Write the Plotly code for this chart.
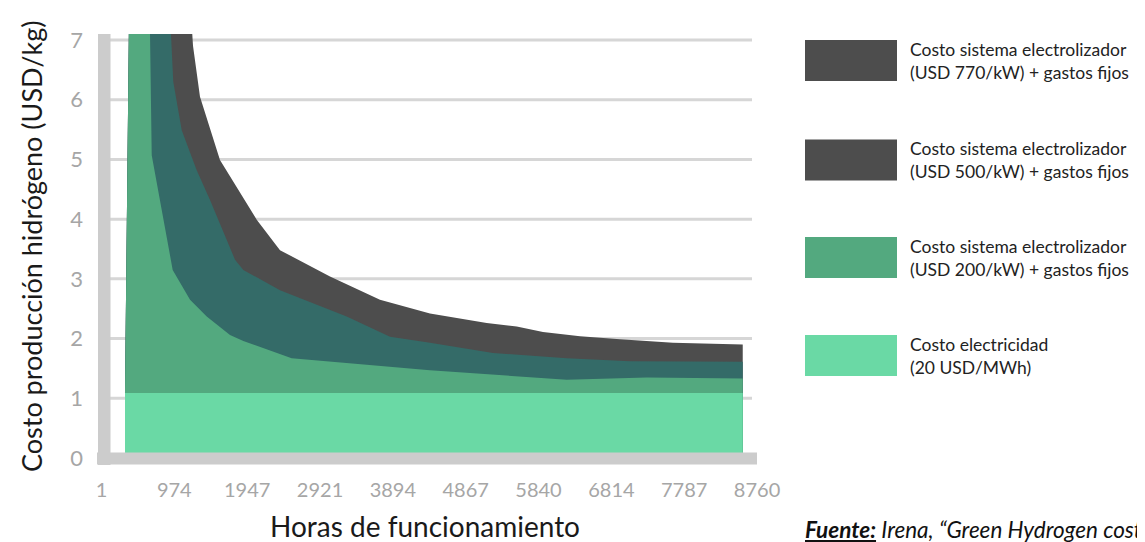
"""Costo de producción de hidrógeno vs horas de funcionamiento (Plotly)."""
import plotly.graph_objects as go

# --- data -------------------------------------------------------------------
HOURS_770 = [315, 489, 783, 1117, 1224, 1317, 1584, 1852, 2075, 2386, 3054,
             3722, 4390, 5148, 5549, 5900, 6395, 6929, 7637, 8569]
COST_770 = [1.09, 21.4, 20.0, 9.0, 6.9, 6.05, 4.99, 4.45, 3.99, 3.48, 3.04,
            2.65, 2.42, 2.26, 2.20, 2.11, 2.04, 1.99, 1.93, 1.90]

HOURS_500 = [315, 489, 783, 960, 1073, 1273, 1451, 1785, 1896, 2386, 3277,
             3856, 4390, 5232, 6217, 7063, 8569]
COST_500 = [1.09, 21.4, 10.9, 6.30, 5.49, 4.82, 4.32, 3.32, 3.15, 2.81, 2.37,
            2.03, 1.93, 1.76, 1.67, 1.62, 1.61]

HOURS_200 = [315, 489, 672, 783, 952, 1184, 1407, 1718, 1896, 2542, 4390,
             6217, 7286, 8569]
COST_200 = [1.09, 21.4, 5.07, 4.32, 3.15, 2.65, 2.37, 2.06, 1.96, 1.67, 1.47,
            1.31, 1.35, 1.33]

HOURS_ELEC = [315, 8569]
COST_ELEC = [1.09, 1.09]

X_TICKS = [1, 974, 1947, 2921, 3894, 4867, 5840, 6814, 7787, 8760]
Y_TICKS = [0, 1, 2, 3, 4, 5, 6, 7]

LEGEND_LABELS = [
    "Costo sistema electrolizador<br>(USD 770/kW) + gastos fijos",
    "Costo sistema electrolizador<br>(USD 500/kW) + gastos fijos",
    "Costo sistema electrolizador<br>(USD 200/kW) + gastos fijos",
    "Costo electricidad<br>(20 USD/MWh)",
]
LEGEND_COLORS = ["#4d4d4d", "#4d4d4d", "#53a97f", "#6ad9a5"]

# --- layout helpers (page pixel -> paper) -----------------------------------
W, H = 1145, 542
OFF = 8  # body margin of the html page
L, R, T, B = 98, 757, 34, 458
FONT = "Lato"
AXIS_GRAY = "#cccccc"


def px_x(px):
    return (px - L) / (R - L)


def px_y(py):
    return (B - py) / (B - T)


fig = go.Figure()
for hours, cost, color in [
    (HOURS_770, COST_770, "#4d4d4d"),
    (HOURS_500, COST_500, "#346b68"),
    (HOURS_200, COST_200, "#53a97f"),
    (HOURS_ELEC, COST_ELEC, "#6ad9a5"),
]:
    fig.add_trace(
        go.Scatter(
            x=hours,
            y=cost,
            mode="lines",
            line=dict(width=0, color=color),
            fill="tozeroy",
            fillcolor=color,
            hoverinfo="skip",
            showlegend=False,
        )
    )

shapes = []
# gridlines
for k in Y_TICKS[1:]:
    shapes.append(dict(type="line", xref="paper", yref="y",
                       x0=px_x(110), x1=px_x(752), y0=k, y1=k,
                       line=dict(color="#d6d6d6", width=3), layer="below"))
# thick axis bars
shapes.append(dict(type="rect", xref="paper", yref="paper",
                   x0=px_x(98), x1=px_x(110.5), y0=px_y(465), y1=px_y(34),
                   fillcolor=AXIS_GRAY, line=dict(width=0), layer="above"))
shapes.append(dict(type="rect", xref="paper", yref="paper",
                   x0=px_x(97), x1=px_x(757), y0=px_y(464.5), y1=px_y(452.5),
                   fillcolor=AXIS_GRAY, line=dict(width=0), layer="above"))

annotations = []
legend_tops = [40, 139.5, 237, 335]
for top, label, color in zip(legend_tops, LEGEND_LABELS, LEGEND_COLORS):
    shapes.append(dict(type="rect", xref="paper", yref="paper",
                       x0=px_x(805), x1=px_x(897), y0=px_y(top + 41), y1=px_y(top),
                       fillcolor=color, line=dict(width=0)))
    annotations.append(dict(xref="paper", yref="paper", x=px_x(908),
                            y=px_y(top + 21), text=label, showarrow=False,
                            xanchor="left", yanchor="middle", align="left",
                            font=dict(family=FONT, size=17.5, color="#222222")))

annotations.append(dict(xref="paper", yref="paper", x=px_x(31), y=px_y(247),
                        text="Costo producción hidrógeno (USD/kg)", textangle=-90,
                        showarrow=False, xanchor="center", yanchor="middle",
                        font=dict(family=FONT, size=27, color="#1a1a1a")))
annotations.append(dict(xref="paper", yref="paper", x=px_x(425), y=px_y(526),
                        text="Horas de funcionamiento", showarrow=False,
                        xanchor="center", yanchor="middle",
                        font=dict(family=FONT, size=28, color="#1a1a1a")))
annotations.append(dict(xref="paper", yref="paper", x=px_x(803), y=px_y(529),
                        text="<b><i><u>Fuente:</u></i></b><i> Irena, “Green Hydrogen cost reduction”</i>",
                        showarrow=False, xanchor="left", yanchor="middle",
                        font=dict(family=FONT, size=22.5, color="#111111")))

fig.update_layout(
    width=W - OFF,
    height=H - OFF,
    margin=dict(l=L - OFF, r=W - R, t=T - OFF, b=H - B, autoexpand=False),
    paper_bgcolor="white",
    plot_bgcolor="white",
    showlegend=False,
    font=dict(family=FONT),
    xaxis=dict(
        range=[-45.8, 8759.6],
        tickvals=X_TICKS,
        ticktext=[str(v) for v in X_TICKS],
        showgrid=False,
        zeroline=False,
        showline=False,
        ticks="",
        ticklabelstandoff=18,
        tickfont=dict(family=FONT, size=20, color="#a6a6a6"),
    ),
    yaxis=dict(
        range=[0, 7.1],
        tickvals=Y_TICKS,
        showgrid=False,
        zeroline=False,
        showline=False,
        ticks="",
        ticklabelstandoff=14,
        tickfont=dict(family=FONT, size=22, color="#a6a6a6"),
    ),
    shapes=shapes,
    annotations=annotations,
)

fig.write_html("out.html")
